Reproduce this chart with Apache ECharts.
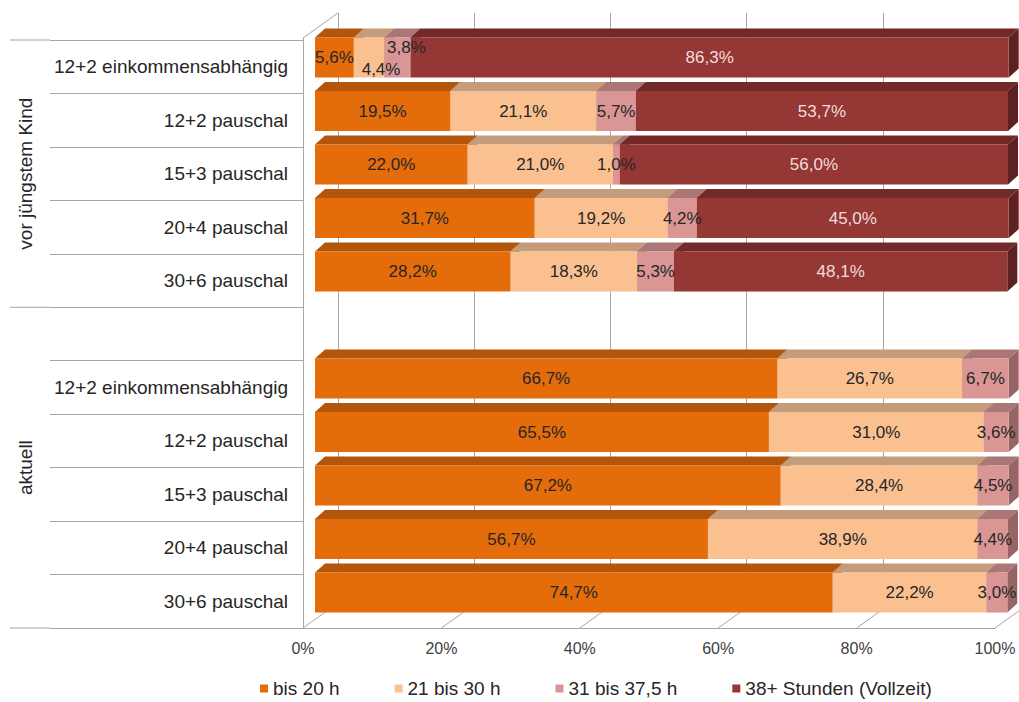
<!DOCTYPE html>
<html><head><meta charset="utf-8">
<script src="https://cdn.jsdelivr.net/npm/echarts@6/dist/echarts.min.js"></script>
<style>html,body{margin:0;padding:0;background:#fff}#c{width:1019px;height:702px}</style>
</head><body><div id="c"></div>
<script>
// ---- data ----
const categories = ['12+2 einkommensabhängig','12+2 pauschal','15+3 pauschal','20+4 pauschal','30+6 pauschal','','12+2 einkommensabhängig','12+2 pauschal','15+3 pauschal','20+4 pauschal','30+6 pauschal'];
const groupNames = ['vor jüngstem Kind','aktuell'];
const groupStartRows = [0,5];
const groupEndRows = [5,11];
const seriesNames = ['bis 20 h','21 bis 30 h','31 bis 37,5 h','38+ Stunden (Vollzeit)'];
const bis20 = [5.6,19.5,22.0,31.7,28.2,null,66.7,65.5,67.2,56.7,74.7];
const bis30 = [4.4,21.1,21.0,19.2,18.3,null,26.7,31.0,28.4,38.9,22.2];
const bis375 = [3.8,5.7,1.0,4.2,5.3,null,6.7,3.6,4.5,4.4,3.0];
const vollzeit = [86.3,53.7,56.0,45.0,48.1,null,null,null,null,null,null];
const axisTicks = [0,20,40,60,80,100];

// ---- styles ----
const FONT = '"Liberation Sans", Arial, sans-serif';
const FRONT = ['#E46C0A','#FAC090','#D99694','#953735'];
const TOP   = ['#B3560C','#C49C7B','#AA7776','#722927'];
const SIDE  = ['#9E4A08','#AE8A6C','#976564','#5C2120'];
const LABEL = ['#262626','#262626','#262626','#F2DCDB'];
const GRIDC = '#a6a6a6';
const labelShift = {'1-0':[12,12],'2-0':[9,-10]};
const DX = 10, DY = 9;

const allSeries = [bis20, bis30, bis375, vollzeit];
const fmt = v => v.toFixed(1).replace('.', ',') + '%';

function buildData(s){
  const out = [];
  for (let r = 0; r < categories.length; r++){
    const v = allSeries[s][r];
    if (v == null) continue;
    let start = 0;
    for (let k = 0; k < s; k++) start += (allSeries[k][r] || 0);
    out.push([r, start, start + v, v]);
  }
  return out;
}

function barRender(s){
  return function(params, api){
    const row = api.value(0);
    const pA = api.coord([api.value(1), row]);
    const pB = api.coord([api.value(2), row]);
    const h = api.size([0,1])[1] * 0.75;
    const yT = pA[1] - h/2, yB = pA[1] + h/2;
    const x0 = pA[0], x1 = pB[0];
    const sh = labelShift[s + '-' + row] || [0,0];
    return {type:'group', children:[
      {type:'polygon', shape:{points:[[x0,yT],[x1,yT],[x1+DX,yT-DY],[x0+DX,yT-DY]]}, style:{fill:TOP[s]}},
      {type:'polygon', shape:{points:[[x1,yT],[x1+DX,yT-DY],[x1+DX,yB-DY],[x1,yB]]}, style:{fill:SIDE[s]}},
      {type:'rect', shape:{x:x0, y:yT, width:x1-x0, height:h}, style:{fill:FRONT[s]}},
      {type:'text', z2:100, x:(x0+x1)/2 + sh[0], y:pA[1] + sh[1],
        style:{text:fmt(api.value(3)), fill:LABEL[s], fontSize:17, fontFamily:FONT, align:'center', verticalAlign:'middle'}}
    ]};
  };
}

const barSeries = seriesNames.map((n, s) => ({
  type:'custom', name:n, xAxisIndex:0, yAxisIndex:0, z:2,
  itemStyle:{color:FRONT[s]},
  data: buildData(s), renderItem: barRender(s)
}));

const frameSeries = {
  type:'custom', xAxisIndex:2, yAxisIndex:2, z:1, silent:true,
  data: axisTicks.map(t => [t, 0]),
  renderItem(params, api){
    const p = api.coord([api.value(0), 0]);
    const st = {stroke:GRIDC, lineWidth:1};
    const ch = [{type:'line', shape:{x1:p[0], y1:p[1], x2:p[0]+35, y2:p[1]-25}, style:st}];
    if (params.dataIndex === 0){
      const q = api.coord([0, 1]);
      ch.push({type:'line', shape:{x1:q[0], y1:q[1], x2:q[0]+35, y2:q[1]-25}, style:st});
    }
    return {type:'group', children:ch};
  }
};

const groupSeries = {
  type:'custom', xAxisIndex:4, yAxisIndex:4, z:1, silent:true,
  data: groupNames.map((n,i) => [groupStartRows[i], groupEndRows[i], i]),
  renderItem(params, api){
    const y0 = api.coord([0, api.value(0)])[1];
    const y1 = api.coord([0, api.value(1)])[1];
    const xL = api.coord([0, 0])[0], xR = api.coord([1, 0])[0];
    const st = {stroke:GRIDC, lineWidth:1};
    const ch = [{type:'line', shape:{x1:xL, y1:y0, x2:xR, y2:y0}, style:st}];
    if (params.dataIndex === groupNames.length - 1)
      ch.push({type:'line', shape:{x1:xL, y1:y1, x2:xR, y2:y1}, style:st});
    ch.push({type:'text', x:xL + 15, y:(y0 + y1)/2, rotation:Math.PI/2,
      style:{text:groupNames[api.value(2)], fill:'#262626', fontSize:19, fontFamily:FONT, align:'center', verticalAlign:'middle'}});
    return {type:'group', children:ch};
  }
};

const hiddenVal = (gi, extra) => Object.assign({type:'value', gridIndex:gi, show:false}, extra || {});

const option = {
  animation:false,
  backgroundColor:'#fff',
  textStyle:{fontFamily:FONT},
  grid:[
    {left:315, width:693, top:30.75, height:588.5},   // bars
    {left:338, width:692, top:13, height:590},        // back wall
    {left:303, width:692, top:38, height:590},        // floor front / left wall
    {left:50, width:253, top:40, height:588},         // category labels
    {left:10, width:40, top:40, height:588}           // group labels
  ],
  xAxis:[
    hiddenVal(0, {min:0, max:100}),
    {type:'value', gridIndex:1, min:0, max:100, interval:20,
      axisLine:{show:false}, axisTick:{show:false}, axisLabel:{show:false},
      splitLine:{show:true, lineStyle:{color:GRIDC, width:1}}},
    {type:'value', gridIndex:2, min:0, max:100, interval:20,
      axisLine:{show:true, lineStyle:{color:GRIDC, width:1}}, axisTick:{show:false},
      splitLine:{show:false},
      axisLabel:{formatter:'{value}%', fontSize:16, color:'#404040', fontFamily:FONT, margin:12}},
    hiddenVal(3, {min:0, max:1}),
    hiddenVal(4, {min:0, max:1})
  ],
  yAxis:[
    {type:'category', gridIndex:0, data:categories, inverse:true, show:false},
    hiddenVal(1, {min:0, max:1}),
    {type:'value', gridIndex:2, min:0, max:1, position:'left',
      axisLine:{show:true, lineStyle:{color:GRIDC, width:1}}, axisTick:{show:false},
      axisLabel:{show:false}, splitLine:{show:false}},
    {type:'category', gridIndex:3, data:categories, inverse:true, position:'right',
      axisLine:{show:false}, axisTick:{show:false},
      axisLabel:{inside:true, interval:0, margin:15, fontSize:19, color:'#262626', fontFamily:FONT},
      splitLine:{show:true, interval:0, lineStyle:{color:GRIDC, width:1}}},
    hiddenVal(4, {min:0, max:11, inverse:true})
  ],
  legend:{
    left:260, top:679, padding:0, itemWidth:8, itemHeight:8, itemGap:55, icon:'rect',
    textStyle:{fontSize:19, color:'#262626', fontFamily:FONT},
    data: seriesNames.map((n,i) => ({name:n, itemStyle:{color:FRONT[i]}}))
  },
  series:[frameSeries, groupSeries].concat(barSeries)
};

const chart = echarts.init(document.getElementById('c'), null, {renderer:'svg'});
chart.setOption(option);
</script>
</body></html>
